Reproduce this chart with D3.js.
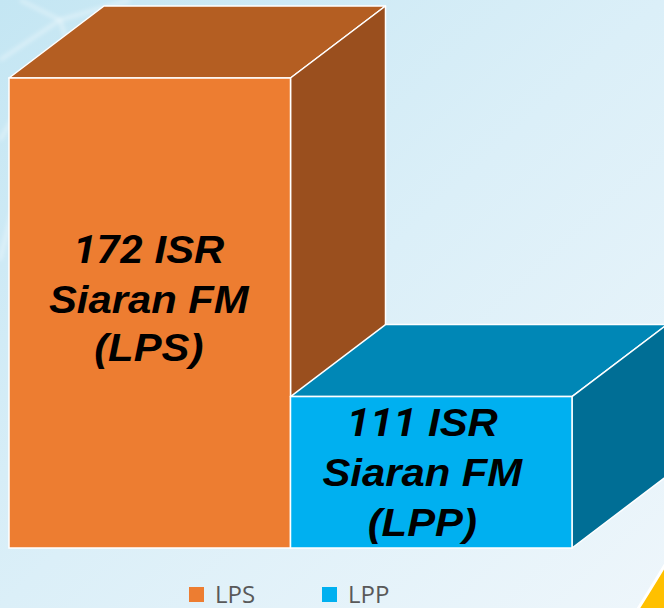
<!DOCTYPE html>
<html><head><meta charset="utf-8">
<script src="https://cdn.jsdelivr.net/npm/d3@7"></script>
<style>html,body{margin:0;padding:0;overflow:hidden;background:#ddeff8;}</style>
</head><body>
<svg id="c" width="664" height="608"></svg>
<script>
const categories = ["LPS", "LPP"];
const values = [172, 111];
const labelLines = [["172 ISR", "Siaran FM", "(LPS)"], ["111 ISR", "Siaran FM", "(LPP)"]];
const frontColors = ["#ED7D31", "#00B0F0"];
const topColors = ["#B45E22", "#0087B6"];
const sideColors = ["#9A4F1E", "#006E95"];
const yDomain = [82, 172];

const svg = d3.select("#c");
const W = 664, H = 608;
const defs = svg.append("defs");
const g1 = defs.append("linearGradient").attr("id", "bg").attr("x1", "0").attr("y1", "0").attr("x2", "1").attr("y2", "1");
g1.append("stop").attr("offset", "0").attr("stop-color", "#c4e6f3");
g1.append("stop").attr("offset", "0.5").attr("stop-color", "#dbeff8");
g1.append("stop").attr("offset", "1").attr("stop-color", "#eef6fb");
svg.append("rect").attr("width", W).attr("height", H).attr("fill", "url(#bg)");

// faint decorative network lines (top-left)
const blur = defs.append("filter").attr("id", "bl");
blur.append("feGaussianBlur").attr("stdDeviation", 2);
const deco = svg.append("g").attr("stroke", "#ffffff").attr("stroke-opacity", 0.45).attr("stroke-width", 3).attr("filter", "url(#bl)").attr("fill", "none");
deco.append("path").attr("d", "M0,60 L60,20 L130,0");
deco.append("path").attr("d", "M20,0 L60,20 L80,80");
deco.append("path").attr("d", "M0,140 L30,90");
deco.append("path").attr("d", "M0,260 L15,200");

// yellow decorative shape bottom right
svg.append("path").attr("d", "M636,612 Q650,590 668,560 L668,612 Z")
  .attr("fill", "#FFC000").attr("stroke", "#ffffff").attr("stroke-width", 3);

const x = d3.scaleBand().domain(categories).range([9, 572]).paddingInner(0).paddingOuter(0);
const y = d3.scaleLinear().domain(yDomain).range([548, 78]);
const dx = 95, dy = 72;
const y0 = y(yDomain[0]);

const bars = svg.append("g").selectAll("g").data(categories).join("g");
bars.each(function(c, i) {
  const gg = d3.select(this);
  const x0 = x(c), x1 = x(c) + x.bandwidth(), yt = y(values[i]);
  gg.append("path").attr("d", `M${x0},${yt} L${x0+dx},${yt-dy} L${x1+dx},${yt-dy} L${x1},${yt} Z`)
    .attr("fill", topColors[i]).attr("stroke", "#fff").attr("stroke-width", 1.5).attr("stroke-linejoin", "round");
  gg.append("path").attr("d", `M${x1},${yt} L${x1+dx},${yt-dy} L${x1+dx},${y0-dy} L${x1},${y0} Z`)
    .attr("fill", sideColors[i]).attr("stroke", "#fff").attr("stroke-width", 1.5).attr("stroke-linejoin", "round");
  gg.append("rect").attr("x", x0).attr("y", yt).attr("width", x1 - x0).attr("height", y0 - yt)
    .attr("fill", frontColors[i]).attr("stroke", "#fff").attr("stroke-width", 1.5);
});

// labels
const lineH = 50;
bars.each(function(c, i) {
  const cx = x(c) + x.bandwidth() / 2 + (i === 0 ? -1 : -9);
  const faceMid = (y(values[i]) + y0) / 2;
  const midBase = i === 0 ? faceMid : faceMid + 14;
  const t = d3.select(this).append("text")
    .attr("text-anchor", "middle")
    .attr("transform", `translate(${cx},0) scale(1.1,1)`)
    .attr("font-family", "'Liberation Sans', Arial, sans-serif")
    .attr("font-weight", "bold").attr("font-style", "italic")
    .attr("font-size", 38).attr("fill", "#000");
  labelLines[i].forEach((s, k) => {
    const yy = midBase + (k - 1) * lineH + (i === 0 && k === 2 ? -2 : 0);
    const m = s.match(/^(\d+)(.*)$/);
    if (m) {
      t.append("tspan").attr("x", 0).attr("y", yy)
        .attr("font-family", "Roboto, sans-serif").attr("font-size", 38).text(m[1]);
      t.append("tspan").text(m[2]);
    } else {
      t.append("tspan").attr("x", 0).attr("y", yy).text(s);
    }
  });
});

// legend
const legendX = [189, 322];
const lg = svg.append("g").selectAll("g").data(categories).join("g")
  .attr("transform", (d, i) => `translate(${legendX[i]},587)`);
lg.append("rect").attr("width", 15).attr("height", 15).attr("fill", (d, i) => frontColors[i]);
lg.append("text").attr("x", 26).attr("y", 15.5).text(d => d)
  .attr("font-family", "'Open Sans', sans-serif").attr("font-size", 24).attr("fill", "#595959");
</script>
</body></html>
